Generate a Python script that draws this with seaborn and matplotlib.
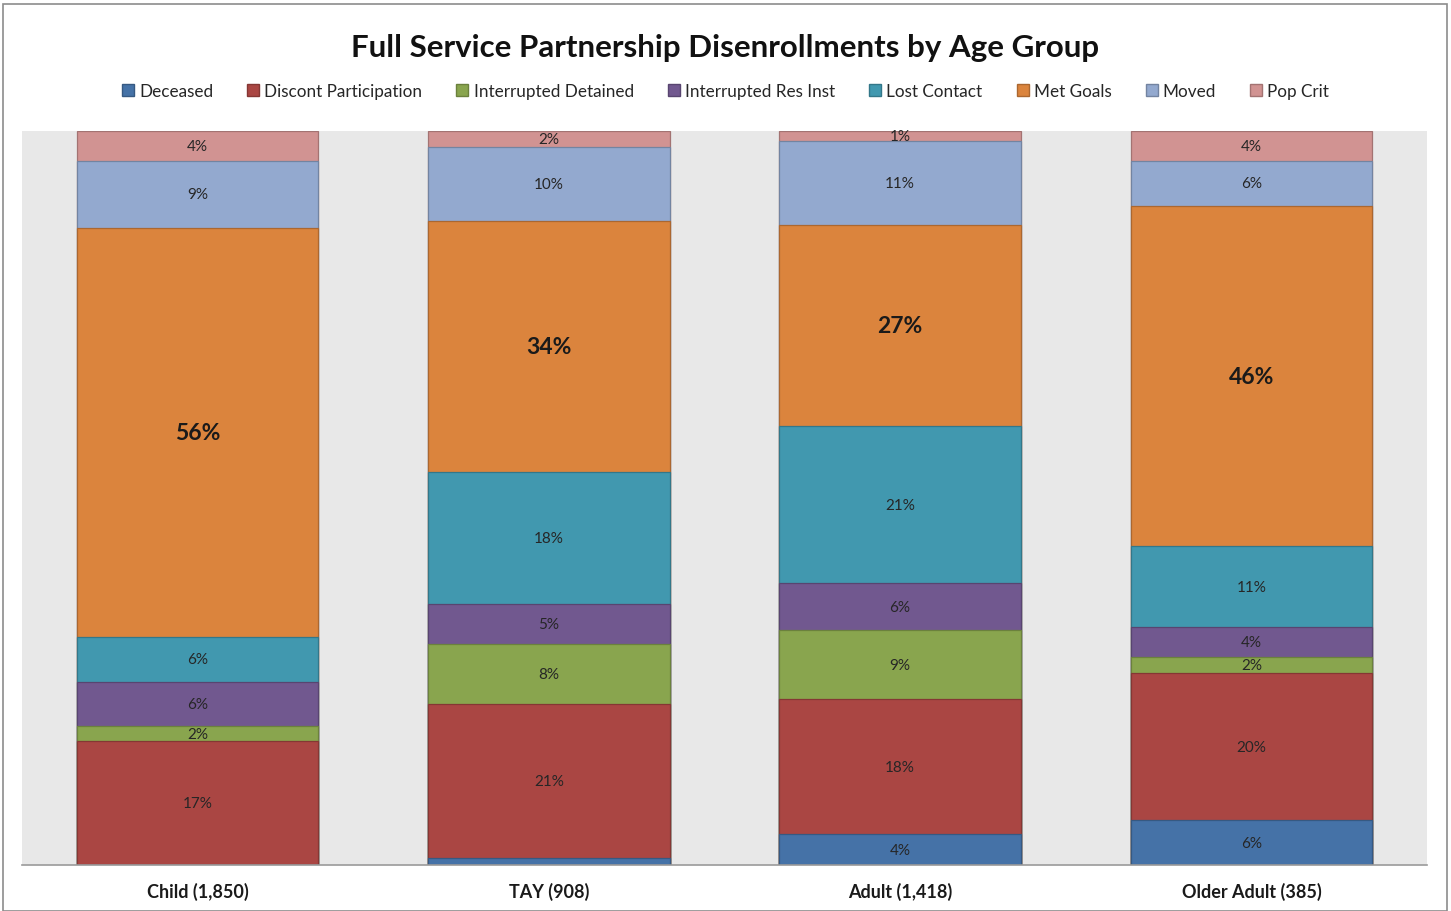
import matplotlib
matplotlib.use("Agg")
import matplotlib.pyplot as plt
import seaborn as sns
import pandas as pd
import numpy as np
from matplotlib.patches import Patch, Rectangle

categories = ["Child (1,850)", "TAY (908)", "Adult (1,418)", "Older Adult (385)"]
series = ["Deceased", "Discont Participation", "Interrupted Detained",
          "Interrupted Res Inst", "Lost Contact", "Met Goals", "Moved", "Pop Crit"]
deceased = [0.0, 0.9, 4.2, 6.1]
discont = [16.9, 21.0, 18.4, 20.0]
detained = [2.0, 8.2, 9.4, 2.2]
res_inst = [6.1, 5.4, 6.4, 4.1]
lost_contact = [6.0, 18.0, 21.4, 11.0]
met_goals = [55.8, 34.3, 27.4, 46.4]
moved = [9.1, 10.0, 11.4, 6.1]
pop_crit = [4.1, 2.2, 1.4, 4.1]
colors = ["#4572A7", "#AA4643", "#89A54E", "#71588F", "#4198AF", "#DB843D", "#93A9CF", "#D19392"]

values = [deceased, discont, detained, res_inst, lost_contact, met_goals, moved, pop_crit]

sns.set_theme(style="white")
plt.rcParams['font.family'] = ['Lato', 'DejaVu Sans']

fig = plt.figure(figsize=(14.51, 9.12), dpi=100)
ax = fig.add_axes([22/1451, 46/912, 1405/1451, 734/912])
ax.set_facecolor("#E8E8E8")

arr = np.array(values)
cum = np.cumsum(arr, axis=0)
bottoms = cum - arr

def darker(c, f=0.78):
    r, g, b = matplotlib.colors.to_rgb(c)
    return (r*f, g*f, b*f)

for k in range(len(series) - 1, -1, -1):
    df = pd.DataFrame({"cat": categories, "top": cum[k]})
    sns.barplot(data=df, x="cat", y="top", order=categories, color=colors[k],
                width=0.687, saturation=1, edgecolor=darker(colors[k]), linewidth=0.9, ax=ax)

for k, s in enumerate(series):
    for i in range(len(categories)):
        v = arr[k, i]
        if v < 1.0:
            continue
        y = bottoms[k, i] + v / 2
        if s == "Met Goals":
            ax.text(i, y, f"{round(v):.0f}%", ha="center", va="center", fontsize=16.5,
                    fontweight="bold", color="#1a1a1a")
        else:
            ax.text(i, y, f"{round(v):.0f}%", ha="center", va="center", fontsize=11,
                    color="#262626")

ax.set_ylim(0, 100)
ax.set_xlim(-0.5, 3.5)
ax.set_yticks([])
ax.set_xlabel("")
ax.set_ylabel("")
for sp in ["top", "left", "right"]:
    ax.spines[sp].set_visible(False)
ax.spines["bottom"].set_color("#9a9a9a")
ax.spines["bottom"].set_linewidth(1.2)
ax.tick_params(axis="x", length=0, pad=12)
for lbl in ax.get_xticklabels():
    lbl.set_fontweight("bold")
    lbl.set_fontsize(13)
    lbl.set_color("#1a1a1a")

fig.text(0.5, 1 - 48/912, "Full Service Partnership Disenrollments by Age Group",
         ha="center", va="center", fontsize=22.5, fontweight="bold", color="#111111")

handles = [Patch(facecolor=c, edgecolor=darker(c), label=s) for s, c in zip(series, colors)]
fig.legend(handles=handles, loc="center", bbox_to_anchor=(0.5, 1 - 92/912), ncol=8,
           frameon=False, fontsize=12.3, handlelength=0.7, handleheight=0.7,
           handletextpad=0.3, columnspacing=2.0)

fig.patches.append(Rectangle((3/1451, 0), 1444/1451, 907/912, transform=fig.transFigure,
                             fill=False, edgecolor="#8c8c8c", linewidth=1.2))

fig.savefig("out.png", dpi=100)
